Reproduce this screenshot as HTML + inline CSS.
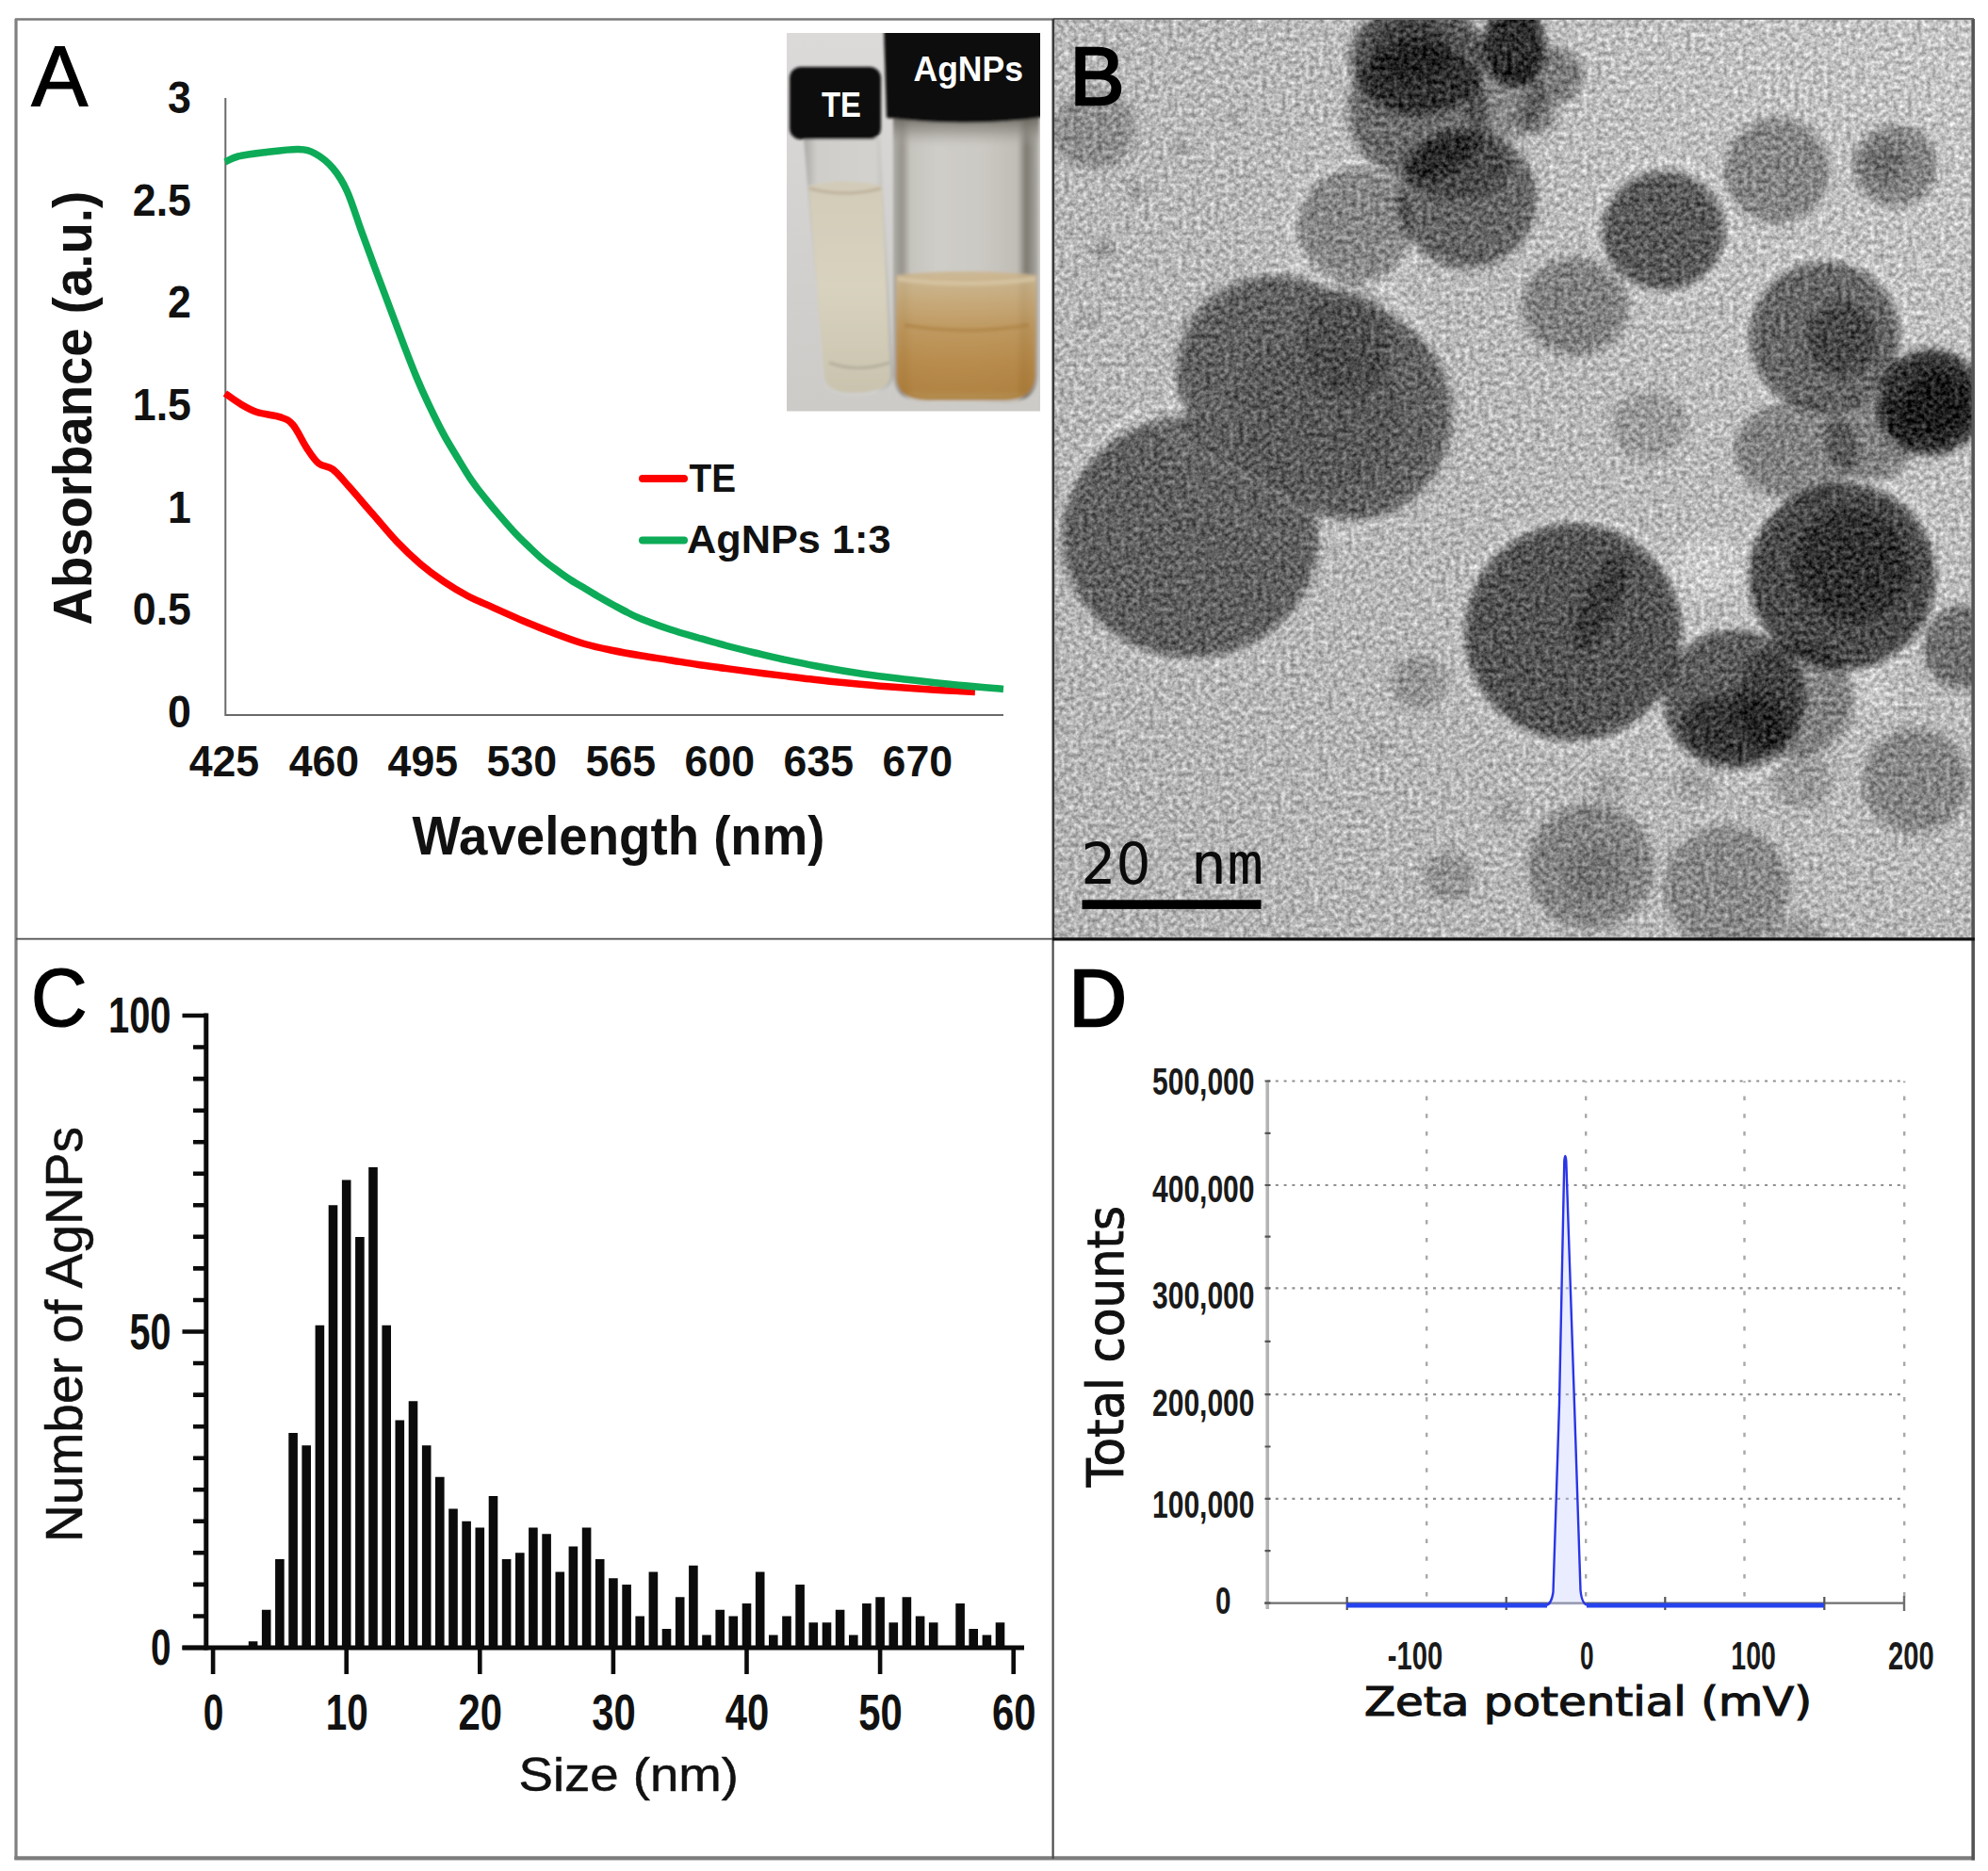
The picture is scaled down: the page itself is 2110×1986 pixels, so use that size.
<!DOCTYPE html>
<html lang="en"><head><meta charset="utf-8"><title>AgNPs characterization figure</title>
<style>
html,body{margin:0;padding:0;background:#fff;}
body{width:2110px;height:1986px;overflow:hidden;}
svg{display:block;}
</style></head><body>
<svg width="2110" height="1986" viewBox="0 0 2110 1986">
<g id="panelA">
<text x="33.3" y="111.6" font-family='"Liberation Sans", sans-serif' font-size="90" font-weight="normal" text-anchor="start" fill="#000" stroke="#000" stroke-width="1.2">A</text>
<path d="M239.3,104 V759 H1065" fill="none" stroke="#6a6a6a" stroke-width="2"/>
<text x="203" y="119.9" font-family='"Liberation Sans", sans-serif' font-size="48" font-weight="bold" text-anchor="end" fill="#111" textLength="24.9" lengthAdjust="spacingAndGlyphs" >3</text>
<text x="203" y="228.55" font-family='"Liberation Sans", sans-serif' font-size="48" font-weight="bold" text-anchor="end" fill="#111" textLength="62.199999999999996" lengthAdjust="spacingAndGlyphs" >2.5</text>
<text x="203" y="337.20000000000005" font-family='"Liberation Sans", sans-serif' font-size="48" font-weight="bold" text-anchor="end" fill="#111" textLength="24.9" lengthAdjust="spacingAndGlyphs" >2</text>
<text x="203" y="445.85" font-family='"Liberation Sans", sans-serif' font-size="48" font-weight="bold" text-anchor="end" fill="#111" textLength="62.199999999999996" lengthAdjust="spacingAndGlyphs" >1.5</text>
<text x="203" y="554.5" font-family='"Liberation Sans", sans-serif' font-size="48" font-weight="bold" text-anchor="end" fill="#111" textLength="24.9" lengthAdjust="spacingAndGlyphs" >1</text>
<text x="203" y="663.15" font-family='"Liberation Sans", sans-serif' font-size="48" font-weight="bold" text-anchor="end" fill="#111" textLength="62.199999999999996" lengthAdjust="spacingAndGlyphs" >0.5</text>
<text x="203" y="771.8000000000001" font-family='"Liberation Sans", sans-serif' font-size="48" font-weight="bold" text-anchor="end" fill="#111" textLength="24.9" lengthAdjust="spacingAndGlyphs" >0</text>
<text x="237.9" y="824.3" font-family='"Liberation Sans", sans-serif' font-size="47" font-weight="bold" text-anchor="middle" fill="#111" textLength="74.5" lengthAdjust="spacingAndGlyphs" >425</text>
<text x="343.9" y="824.3" font-family='"Liberation Sans", sans-serif' font-size="47" font-weight="bold" text-anchor="middle" fill="#111" textLength="74.5" lengthAdjust="spacingAndGlyphs" >460</text>
<text x="448.8" y="824.3" font-family='"Liberation Sans", sans-serif' font-size="47" font-weight="bold" text-anchor="middle" fill="#111" textLength="74.5" lengthAdjust="spacingAndGlyphs" >495</text>
<text x="553.8" y="824.3" font-family='"Liberation Sans", sans-serif' font-size="47" font-weight="bold" text-anchor="middle" fill="#111" textLength="74.5" lengthAdjust="spacingAndGlyphs" >530</text>
<text x="658.8" y="824.3" font-family='"Liberation Sans", sans-serif' font-size="47" font-weight="bold" text-anchor="middle" fill="#111" textLength="74.5" lengthAdjust="spacingAndGlyphs" >565</text>
<text x="763.8" y="824.3" font-family='"Liberation Sans", sans-serif' font-size="47" font-weight="bold" text-anchor="middle" fill="#111" textLength="74.5" lengthAdjust="spacingAndGlyphs" >600</text>
<text x="868.8" y="824.3" font-family='"Liberation Sans", sans-serif' font-size="47" font-weight="bold" text-anchor="middle" fill="#111" textLength="74.5" lengthAdjust="spacingAndGlyphs" >635</text>
<text x="973.8" y="824.3" font-family='"Liberation Sans", sans-serif' font-size="47" font-weight="bold" text-anchor="middle" fill="#111" textLength="74.5" lengthAdjust="spacingAndGlyphs" >670</text>
<text x="437.5" y="906.5" font-family='"Liberation Sans", sans-serif' font-size="58" font-weight="bold" text-anchor="start" fill="#111" textLength="438" lengthAdjust="spacingAndGlyphs" >Wavelength (nm)</text>
<g transform="translate(97.3,663.5) rotate(-90)">
<text x="0" y="0" font-family='"Liberation Sans", sans-serif' font-size="58" font-weight="bold" text-anchor="start" fill="#111" textLength="460.6" lengthAdjust="spacingAndGlyphs" >Absorbance (a.u.)</text>
</g>
<path d="M238.9,417.5 C241.6,419.4 249.5,425.4 255.2,428.7 C260.8,432.0 265.7,435.1 272.8,437.5 C279.9,439.9 291.6,440.6 298.0,442.9 C304.4,445.1 306.4,445.6 311.0,451.0 C315.6,456.4 321.1,468.8 325.6,475.6 C330.1,482.4 333.6,488.1 338.2,491.9 C342.8,495.7 347.9,494.0 353.3,498.2 C358.8,502.4 363.8,509.1 370.9,517.1 C378.0,525.1 387.6,536.4 396.0,546.0 C404.4,555.6 412.8,566.1 421.2,574.9 C429.6,583.7 438.0,591.7 446.4,598.8 C454.8,605.9 463.1,612.0 471.5,617.7 C479.9,623.4 488.3,628.4 496.7,632.8 C505.1,637.2 511.2,639.4 521.8,644.1 C532.3,648.8 548.6,656.2 560.0,661.0 C571.4,665.8 580.1,669.2 590.2,673.0 C600.3,676.8 610.4,680.6 620.4,683.5 C630.4,686.4 640.5,688.4 650.5,690.5 C660.5,692.6 670.6,694.3 680.7,696.0 C690.8,697.7 700.8,699.1 710.9,700.7 C721.0,702.3 731.0,704.0 741.1,705.5 C751.2,707.0 761.2,708.2 771.3,709.6 C781.3,711.0 791.3,712.3 801.4,713.6 C811.5,714.9 821.8,716.2 831.6,717.4 C841.4,718.6 850.0,719.7 860.0,720.8 C870.0,721.9 877.9,722.9 891.5,724.2 C905.1,725.5 925.0,727.5 941.8,728.8 C958.5,730.1 976.5,731.3 992.0,732.2 C1007.5,733.1 1027.8,734.0 1034.9,734.4" fill="none" stroke="#ff0000" stroke-width="7.5" stroke-linejoin="round"/>
<path d="M238.9,172.0 C241.2,171.0 245.4,167.8 252.7,166.0 C260.0,164.2 272.2,162.8 282.9,161.5 C293.6,160.2 308.2,158.2 316.8,158.5 C325.4,158.8 328.3,159.7 334.4,163.0 C340.5,166.3 347.6,171.8 353.3,178.5 C359.0,185.2 363.4,191.9 368.4,203.0 C373.4,214.1 378.5,231.1 383.5,245.0 C388.5,258.9 393.6,272.6 398.6,286.2 C403.6,299.8 408.7,313.1 413.7,326.5 C418.7,339.9 424.1,354.4 428.8,366.7 C433.5,378.9 437.5,389.4 441.9,400.0 C446.3,410.6 450.6,420.1 455.4,430.2 C460.2,440.3 465.5,451.1 470.5,460.4 C475.5,469.7 480.6,477.7 485.6,486.0 C490.6,494.3 495.7,502.9 500.7,510.2 C505.7,517.5 510.8,523.5 515.8,529.8 C520.8,536.1 525.9,542.0 530.9,547.9 C535.9,553.8 541.0,559.6 546.0,565.0 C551.0,570.4 556.1,575.2 561.1,580.0 C566.1,584.8 571.2,589.8 576.2,594.0 C581.2,598.2 586.3,601.8 591.3,605.5 C596.3,609.2 601.3,612.8 606.3,616.0 C611.3,619.2 616.4,622.0 621.4,625.0 C626.4,628.0 631.5,631.1 636.5,634.0 C641.5,636.9 646.6,639.8 651.6,642.5 C656.6,645.2 661.9,648.1 666.7,650.5 C671.6,652.9 673.3,654.1 680.7,657.0 C688.1,659.9 700.8,664.7 710.9,668.0 C721.0,671.3 731.0,674.1 741.1,677.0 C751.2,679.9 761.2,682.8 771.3,685.5 C781.3,688.2 791.3,690.6 801.4,693.0 C811.5,695.4 820.8,697.7 831.6,700.0 C842.4,702.3 852.2,704.4 866.4,707.0 C880.6,709.6 899.9,713.0 916.7,715.5 C933.5,718.0 950.2,719.8 967.0,721.8 C983.8,723.8 1001.0,725.7 1017.3,727.3 C1033.6,728.9 1057.0,730.7 1065.0,731.4" fill="none" stroke="#0dab57" stroke-width="7.5" stroke-linejoin="round"/>
<line x1="682" y1="508" x2="726" y2="508" stroke="#ff0000" stroke-width="8" stroke-linecap="round"/>
<line x1="682" y1="573.5" x2="726" y2="573.5" stroke="#0dab57" stroke-width="8" stroke-linecap="round"/>
<text x="731.5" y="522" font-family='"Liberation Sans", sans-serif' font-size="43" font-weight="bold" text-anchor="start" fill="#111" textLength="49.5" lengthAdjust="spacingAndGlyphs" >TE</text>
<text x="729" y="586.5" font-family='"Liberation Sans", sans-serif' font-size="43" font-weight="bold" text-anchor="start" fill="#111" textLength="216.5" lengthAdjust="spacingAndGlyphs" >AgNPs 1:3</text>
<defs>
<linearGradient id="phbg" x1="0" y1="0" x2="0" y2="1"><stop offset="0" stop-color="#dcdad9"/><stop offset="0.55" stop-color="#d3d1cf"/><stop offset="1" stop-color="#cdcbc8"/></linearGradient>
<linearGradient id="agliq" x1="0" y1="0" x2="0" y2="1"><stop offset="0" stop-color="#ccb68f"/><stop offset="0.25" stop-color="#c5a36c"/><stop offset="0.45" stop-color="#bd9150"/><stop offset="0.7" stop-color="#b5823a"/><stop offset="0.92" stop-color="#ad792f"/><stop offset="1" stop-color="#b08845"/></linearGradient>
<linearGradient id="teliq" x1="0" y1="0" x2="0" y2="1"><stop offset="0" stop-color="#d2cbb8"/><stop offset="0.5" stop-color="#d8d2bf"/><stop offset="1" stop-color="#c9c3ae"/></linearGradient>
<linearGradient id="jarglass" x1="0" y1="0" x2="1" y2="0"><stop offset="0" stop-color="#b0aea8"/><stop offset="0.06" stop-color="#96938c"/><stop offset="0.12" stop-color="#c6c4be"/><stop offset="0.3" stop-color="#cfcdc8"/><stop offset="0.6" stop-color="#cbc9c3"/><stop offset="0.85" stop-color="#c0bdb6"/><stop offset="0.91" stop-color="#7d7a72"/><stop offset="0.96" stop-color="#99968f"/><stop offset="1" stop-color="#b8b6b0"/></linearGradient><linearGradient id="neck" x1="0" y1="0" x2="0" y2="1"><stop offset="0" stop-color="#5e5b55" stop-opacity="0.9"/><stop offset="0.5" stop-color="#8a877f" stop-opacity="0.6"/><stop offset="1" stop-color="#b0aea8" stop-opacity="0"/></linearGradient>
<linearGradient id="vialglass" x1="0" y1="0" x2="1" y2="0"><stop offset="0" stop-color="#a9a8a4"/><stop offset="0.15" stop-color="#cfcecb"/><stop offset="0.8" stop-color="#d2d1ce"/><stop offset="1" stop-color="#b0afab"/></linearGradient>
<filter id="phblur" x="-5%" y="-5%" width="110%" height="110%"><feGaussianBlur stdDeviation="1.6"/></filter>
<clipPath id="phclip"><rect x="835" y="35" width="269" height="401.5"/></clipPath>
</defs>
<g clip-path="url(#phclip)">
<rect x="835" y="35" width="269" height="402" fill="url(#phbg)"/>
<g filter="url(#phblur)">
<path d="M948,118 L948,398 Q948,427 985,428 L1068,428 Q1101,427 1102,398 L1103,118 Z" fill="url(#jarglass)"/>
<path d="M951,292 L951,398 Q951,424 985,425 L1066,425 Q1098,424 1099,398 L1100,292 Q1025,284 951,292 Z" fill="url(#agliq)"/>
<path d="M951,292 L951,395 Q951,421 985,422 L1066,422 Q1098,421 1099,395 L1100,292 Q1025,284 951,292 Z" fill="url(#jarglass)" opacity="0.14"/>
<path d="M960,345 Q1025,356 1092,345" fill="none" stroke="#a8793a" stroke-width="4" opacity="0.5"/>
<path d="M953,296 Q1025,306 1099,296" fill="none" stroke="#d8c7a6" stroke-width="5" opacity="0.7"/>
<rect x="948" y="122" width="155" height="34" fill="url(#neck)"/>
<path d="M938,30 L1110,30 L1110,124 Q1030,136 941,125 Z" fill="#0d0d0f"/>
<path d="M853,146 L874,402 Q876,420 905,420 Q948,420 948,398 L934,146 Z" fill="url(#vialglass)"/>
<path d="M858,197 L875,400 Q877,417 905,417 Q945,417 945,398 L936,197 Q897,188 858,197 Z" fill="url(#teliq)"/>
<path d="M880,385 Q910,396 944,385" fill="none" stroke="#aaa593" stroke-width="3" opacity="0.7"/>
<path d="M859,200 Q897,210 935,200" fill="none" stroke="#b5a58e" stroke-width="3" opacity="0.7"/>
<rect x="838" y="71" width="97" height="77" rx="12" ry="12" fill="#0e0e10"/>
</g>
<text x="872" y="123.5" font-family='"Liberation Sans", sans-serif' font-size="36" font-weight="bold" text-anchor="start" fill="#fff" textLength="42" lengthAdjust="spacingAndGlyphs" >TE</text>
<text x="969.5" y="86" font-family='"Liberation Sans", sans-serif' font-size="37" font-weight="bold" text-anchor="start" fill="#fff" textLength="116.5" lengthAdjust="spacingAndGlyphs" >AgNPs</text>
</g>
</g>
<defs>
<clipPath id="temclip"><rect x="1118" y="20" width="977" height="977"/></clipPath>
<linearGradient id="tembg" x1="0" y1="1" x2="1" y2="0"><stop offset="0" stop-color="#b3b3b3"/><stop offset="0.6" stop-color="#b9b9b9"/><stop offset="1" stop-color="#c6c6c6"/></linearGradient>
<filter id="pblur" filterUnits="userSpaceOnUse" x="1078" y="-20" width="1057" height="1057"><feGaussianBlur stdDeviation="4"/></filter>
<filter id="pblur2" filterUnits="userSpaceOnUse" x="1078" y="-20" width="1057" height="1057"><feGaussianBlur stdDeviation="9"/></filter>
<filter id="grain" filterUnits="userSpaceOnUse" x="1118" y="20" width="977" height="977" color-interpolation-filters="sRGB">
<feTurbulence type="fractalNoise" baseFrequency="0.2" numOctaves="3" seed="11" result="n"/>
<feColorMatrix in="n" type="matrix" values="1 0 0 0 0  1 0 0 0 0  1 0 0 0 0  0 0 0 0 1" result="g"/>
<feComposite in="SourceGraphic" in2="g" operator="arithmetic" k1="0" k2="1" k3="0.6" k4="-0.3"/>
</filter>
</defs>
<g clip-path="url(#temclip)"><g filter="url(#grain)">
<rect x="1118" y="20" width="977" height="977" fill="url(#tembg)"/>
<g filter="url(#pblur)" fill="none" stroke="#fff" stroke-width="7" opacity="0.30">
<circle cx="1263.6" cy="566" r="137"/>
<circle cx="1386.6" cy="427" r="144"/>
<circle cx="1669.5" cy="671" r="122"/>
<circle cx="1955.4" cy="612" r="106"/>
<circle cx="1840.5" cy="745" r="82"/>
<circle cx="1765.7" cy="245" r="72"/>
<circle cx="1936.7" cy="357.4" r="87"/>
<circle cx="1438.7" cy="240" r="68"/>
</g>
<g filter="url(#pblur2)" fill="#fff"><circle cx="1812" cy="602" r="34" opacity="0.28"/><circle cx="1990" cy="735" r="22" opacity="0.2"/><circle cx="1480" cy="268" r="16" opacity="0.2"/></g>
<g filter="url(#pblur)" fill="#000">
<path d="M1126.6,570.4 a137,128 0 1,0 274,0 a137,128 0 1,0 -274,0 z M1248,392 a104,100 0 1,0 208,0 a104,100 0 1,0 -208,0 z M1333,440 a104,112 0 1,0 208,0 a104,112 0 1,0 -208,0 z M1275,420 a120,112 0 1,0 240,0 a120,112 0 1,0 -240,0 z " opacity="0.47"/>
<ellipse cx="1430" cy="362" rx="48" ry="62" opacity="0.16"/>
<ellipse cx="1400" cy="440" rx="90" ry="80" opacity="0.08"/>
<ellipse cx="1669.5" cy="671" rx="115" ry="115" opacity="0.54"/>
<ellipse cx="1699" cy="640" rx="18" ry="55" opacity="0.3" transform="rotate(25 1699 640)"/>
<ellipse cx="1955.4" cy="612" rx="99" ry="99" opacity="0.6"/>
<ellipse cx="1965" cy="600" rx="60" ry="60" opacity="0.35"/>
<ellipse cx="1840.5" cy="742" rx="76" ry="74" opacity="0.5"/>
<ellipse cx="1842" cy="772" rx="58" ry="36" opacity="0.4"/>
<ellipse cx="1905" cy="742" rx="62" ry="62" opacity="0.3"/>
<ellipse cx="1505" cy="118" rx="74" ry="74" opacity="0.42"/>
<ellipse cx="1505" cy="62" rx="72" ry="60" opacity="0.55"/>
<ellipse cx="1498" cy="55" rx="42" ry="32" opacity="0.3"/>
<ellipse cx="1607" cy="48" rx="33" ry="44" opacity="0.75"/>
<ellipse cx="1650" cy="80" rx="30" ry="30" opacity="0.35"/>
<ellipse cx="1597" cy="108" rx="42" ry="40" opacity="0.28"/>
<ellipse cx="1631" cy="121" rx="21" ry="21" opacity="0.3"/>
<ellipse cx="1557" cy="211" rx="74" ry="74" opacity="0.45"/>
<ellipse cx="1547" cy="176" rx="56" ry="36" opacity="0.28"/>
<ellipse cx="1438.7" cy="240" rx="61" ry="61" opacity="0.27"/>
<ellipse cx="1160.8" cy="138" rx="45" ry="42" opacity="0.22"/>
<ellipse cx="1765.7" cy="245" rx="65" ry="63" opacity="0.52"/>
<ellipse cx="1672" cy="325" rx="56" ry="52" opacity="0.3"/>
<ellipse cx="1886" cy="181" rx="56" ry="56" opacity="0.3"/>
<ellipse cx="2011.5" cy="175.7" rx="45" ry="43" opacity="0.32"/>
<ellipse cx="2000" cy="172" rx="22" ry="20" opacity="0.18"/>
<ellipse cx="1936.7" cy="357.4" rx="80" ry="80" opacity="0.46"/>
<ellipse cx="1955" cy="360" rx="38" ry="40" opacity="0.3"/>
<ellipse cx="2049" cy="427" rx="56" ry="56" opacity="0.72"/>
<ellipse cx="2055" cy="430" rx="36" ry="36" opacity="0.45"/>
<ellipse cx="1907" cy="478" rx="66" ry="52" opacity="0.3"/>
<ellipse cx="1985" cy="465" rx="48" ry="45" opacity="0.32"/>
<ellipse cx="1749.7" cy="451" rx="40" ry="36" opacity="0.16"/>
<ellipse cx="2081" cy="687" rx="40" ry="44" opacity="0.4"/>
<ellipse cx="2033" cy="828.7" rx="56" ry="56" opacity="0.27"/>
<ellipse cx="1912.7" cy="828.7" rx="32" ry="30" opacity="0.16"/>
<ellipse cx="1688" cy="919.6" rx="67" ry="67" opacity="0.27"/>
<ellipse cx="1690" cy="925" rx="30" ry="28" opacity="0.12"/>
<ellipse cx="1832.5" cy="941" rx="67" ry="64" opacity="0.25"/>
<ellipse cx="1800" cy="831" rx="21" ry="21" opacity="0.12"/>
<ellipse cx="1707" cy="834" rx="19" ry="19" opacity="0.1"/>
<ellipse cx="1907" cy="994" rx="30" ry="22" opacity="0.15"/>
<ellipse cx="1505.5" cy="724.5" rx="29" ry="29" opacity="0.18"/>
<ellipse cx="1537.6" cy="930" rx="27" ry="27" opacity="0.18"/>
<ellipse cx="1460" cy="791" rx="10" ry="10" opacity="0.1"/>
<ellipse cx="1599" cy="861" rx="16" ry="16" opacity="0.1"/>
<ellipse cx="1307.8" cy="125" rx="8" ry="8" opacity="0.12"/>
<ellipse cx="1251.6" cy="155.6" rx="9" ry="9" opacity="0.14"/>
<ellipse cx="1206" cy="202" rx="10" ry="10" opacity="0.14"/>
<ellipse cx="1170" cy="265" rx="12" ry="12" opacity="0.15"/>
<ellipse cx="1155" cy="341" rx="8" ry="8" opacity="0.12"/>
<ellipse cx="1358.5" cy="133" rx="6" ry="6" opacity="0.1"/>
</g>
<g filter="url(#pblur)" fill="none" stroke="#fff" stroke-width="5" opacity="0.20"><path d="M1214,441 Q1312,503 1404,553"/></g>
<g filter="url(#pblur)" fill="none" stroke="#000" stroke-width="9" opacity="0.07"><path d="M1222,432 Q1318,494 1410,543"/></g>
</g>
<text x="1135.6" y="111.3" font-family='"Liberation Sans", sans-serif' font-size="87" font-weight="normal" text-anchor="start" fill="#000" stroke="#000" stroke-width="2.6">B</text>
<text x="1147.5" y="938.3" font-family='"DejaVu Sans", "Liberation Sans", sans-serif' font-size="60" font-weight="normal" text-anchor="start" fill="#0a0a0a" textLength="74" lengthAdjust="spacingAndGlyphs" >20</text>
<text x="1263.5" y="938.3" font-family='"DejaVu Sans Mono", "Liberation Mono", monospace' font-size="60" font-weight="normal" text-anchor="start" fill="#0a0a0a" textLength="77.5" lengthAdjust="spacingAndGlyphs" >nm</text>
<rect x="1148.5" y="955.3" width="190" height="9.6" fill="#000"/>
</g>
<g id="panelC">
<text x="32.8" y="1089.3" font-family='"Liberation Sans", sans-serif' font-size="88" font-weight="normal" text-anchor="start" fill="#000" textLength="60" lengthAdjust="spacingAndGlyphs" stroke="#000" stroke-width="1.2">C</text>
<path d="M263.8,1749.0 v-6.7 h9.6 v6.7zM277.9,1749.0 v-40.3 h9.6 v40.3zM292.1,1749.0 v-93.9 h9.6 v93.9zM306.3,1749.0 v-228.1 h9.6 v228.1zM320.4,1749.0 v-214.7 h9.6 v214.7zM334.6,1749.0 v-342.2 h9.6 v342.2zM348.7,1749.0 v-469.7 h9.6 v469.7zM362.9,1749.0 v-496.5 h9.6 v496.5zM377.1,1749.0 v-436.1 h9.6 v436.1zM391.2,1749.0 v-510.0 h9.6 v510.0zM405.4,1749.0 v-342.2 h9.6 v342.2zM419.5,1749.0 v-241.6 h9.6 v241.6zM433.7,1749.0 v-261.7 h9.6 v261.7zM447.9,1749.0 v-214.7 h9.6 v214.7zM462.0,1749.0 v-181.2 h9.6 v181.2zM476.2,1749.0 v-147.6 h9.6 v147.6zM490.3,1749.0 v-134.2 h9.6 v134.2zM504.5,1749.0 v-127.5 h9.6 v127.5zM518.7,1749.0 v-161.0 h9.6 v161.0zM532.8,1749.0 v-93.9 h9.6 v93.9zM547.0,1749.0 v-100.7 h9.6 v100.7zM561.1,1749.0 v-127.5 h9.6 v127.5zM575.3,1749.0 v-120.8 h9.6 v120.8zM589.5,1749.0 v-80.5 h9.6 v80.5zM603.6,1749.0 v-107.4 h9.6 v107.4zM617.8,1749.0 v-127.5 h9.6 v127.5zM631.9,1749.0 v-93.9 h9.6 v93.9zM646.1,1749.0 v-73.8 h9.6 v73.8zM660.3,1749.0 v-67.1 h9.6 v67.1zM674.4,1749.0 v-33.5 h9.6 v33.5zM688.6,1749.0 v-80.5 h9.6 v80.5zM702.7,1749.0 v-20.1 h9.6 v20.1zM716.9,1749.0 v-53.7 h9.6 v53.7zM731.1,1749.0 v-87.2 h9.6 v87.2zM745.2,1749.0 v-13.4 h9.6 v13.4zM759.4,1749.0 v-40.3 h9.6 v40.3zM773.5,1749.0 v-33.5 h9.6 v33.5zM787.7,1749.0 v-47.0 h9.6 v47.0zM801.9,1749.0 v-80.5 h9.6 v80.5zM816.0,1749.0 v-13.4 h9.6 v13.4zM830.2,1749.0 v-33.5 h9.6 v33.5zM844.3,1749.0 v-67.1 h9.6 v67.1zM858.5,1749.0 v-26.8 h9.6 v26.8zM872.7,1749.0 v-26.8 h9.6 v26.8zM886.8,1749.0 v-40.3 h9.6 v40.3zM901.0,1749.0 v-13.4 h9.6 v13.4zM915.1,1749.0 v-47.0 h9.6 v47.0zM929.3,1749.0 v-53.7 h9.6 v53.7zM943.5,1749.0 v-26.8 h9.6 v26.8zM957.6,1749.0 v-53.7 h9.6 v53.7zM971.8,1749.0 v-33.5 h9.6 v33.5zM985.9,1749.0 v-26.8 h9.6 v26.8zM1014.3,1749.0 v-47.0 h9.6 v47.0zM1028.4,1749.0 v-20.1 h9.6 v20.1zM1042.6,1749.0 v-13.4 h9.6 v13.4zM1056.7,1749.0 v-26.8 h9.6 v26.8z" fill="#0b0b0b"/>
<path d="M193.5,1749.0 H1087" stroke="#0b0b0b" stroke-width="5" fill="none"/>
<path d="M218.8,1075.5 V1751.5" stroke="#0b0b0b" stroke-width="5" fill="none"/>
<path d="M193.5,1749.0 H219M205,1715.5 H219M205,1681.9 H219M205,1648.3 H219M205,1614.8 H219M205,1581.2 H219M205,1547.7 H219M205,1514.2 H219M205,1480.6 H219M205,1447.0 H219M193.5,1413.5 H219M205,1380.0 H219M205,1346.4 H219M205,1312.8 H219M205,1279.3 H219M205,1245.8 H219M205,1212.2 H219M205,1178.7 H219M205,1145.1 H219M205,1111.5 H219M193.5,1078.0 H219M226.1,1749.0 V1777M367.7,1749.0 V1777M509.3,1749.0 V1777M650.9,1749.0 V1777M792.5,1749.0 V1777M934.1,1749.0 V1777M1075.7,1749.0 V1777" stroke="#0b0b0b" stroke-width="4.6" fill="none"/>
<text x="181.5" y="1096.2" font-family='"Liberation Sans", sans-serif' font-size="53" font-weight="bold" text-anchor="end" fill="#111" textLength="66.5" lengthAdjust="spacingAndGlyphs" >100</text>
<text x="181.5" y="1432.2" font-family='"Liberation Sans", sans-serif' font-size="53" font-weight="bold" text-anchor="end" fill="#111" textLength="44" lengthAdjust="spacingAndGlyphs" >50</text>
<text x="181.5" y="1767.2" font-family='"Liberation Sans", sans-serif' font-size="53" font-weight="bold" text-anchor="end" fill="#111" textLength="21.5" lengthAdjust="spacingAndGlyphs" >0</text>
<text x="226.6" y="1836" font-family='"Liberation Sans", sans-serif' font-size="53" font-weight="bold" text-anchor="middle" fill="#111" textLength="21.6" lengthAdjust="spacingAndGlyphs" >0</text>
<text x="368.2" y="1836" font-family='"Liberation Sans", sans-serif' font-size="53" font-weight="bold" text-anchor="middle" fill="#111" textLength="45" lengthAdjust="spacingAndGlyphs" >10</text>
<text x="509.79999999999995" y="1836" font-family='"Liberation Sans", sans-serif' font-size="53" font-weight="bold" text-anchor="middle" fill="#111" textLength="46.5" lengthAdjust="spacingAndGlyphs" >20</text>
<text x="651.4" y="1836" font-family='"Liberation Sans", sans-serif' font-size="53" font-weight="bold" text-anchor="middle" fill="#111" textLength="46.5" lengthAdjust="spacingAndGlyphs" >30</text>
<text x="793.0" y="1836" font-family='"Liberation Sans", sans-serif' font-size="53" font-weight="bold" text-anchor="middle" fill="#111" textLength="46.5" lengthAdjust="spacingAndGlyphs" >40</text>
<text x="934.6" y="1836" font-family='"Liberation Sans", sans-serif' font-size="53" font-weight="bold" text-anchor="middle" fill="#111" textLength="46.5" lengthAdjust="spacingAndGlyphs" >50</text>
<text x="1076.1999999999998" y="1836" font-family='"Liberation Sans", sans-serif' font-size="53" font-weight="bold" text-anchor="middle" fill="#111" textLength="46.5" lengthAdjust="spacingAndGlyphs" >60</text>
<text x="550.5" y="1900.5" font-family='"Liberation Sans", sans-serif' font-size="50" font-weight="normal" text-anchor="start" fill="#111" textLength="233.5" lengthAdjust="spacingAndGlyphs" stroke="#111" stroke-width="0.5">Size (nm)</text>
<g transform="translate(86.8,1637) rotate(-90)">
<text x="0" y="0" font-family='"Liberation Sans", sans-serif' font-size="55" font-weight="normal" text-anchor="start" fill="#111" textLength="441" lengthAdjust="spacingAndGlyphs" stroke="#111" stroke-width="0.5">Number of AgNPs</text>
</g>
</g>
<g id="panelD">
<text x="1134.5" y="1089" font-family='"Liberation Sans", sans-serif' font-size="85" font-weight="normal" text-anchor="start" fill="#000" stroke="#000" stroke-width="2.4">D</text>
<path d="M1345,1147.5 H2022M1345,1258 H2022M1345,1367.3 H2022M1345,1480.2 H2022M1345,1590.8 H2022" stroke="#8f8f8f" stroke-width="2.2" stroke-dasharray="3 5.8" fill="none"/>
<path d="M1514.2,1147.5 V1701M1683.2,1147.5 V1701M1851.5,1147.5 V1701M2021.2,1147.5 V1701" stroke="#a8a8a8" stroke-width="2.4" stroke-dasharray="4.5 14.3" stroke-dashoffset="-16" fill="none"/>
<path d="M1345.2,1147 V1708" stroke="#b4b4b4" stroke-width="3.6" fill="none"/>
<path d="M1342,1701.6 H2021 M2021,1694 V1710" stroke="#6e6e6e" stroke-width="2.4" fill="none"/>
<path d="M1342.5,1202.8 H1348.5M1342.5,1312.7 H1348.5M1342.5,1423.8 H1348.5M1342.5,1535.5 H1348.5M1342.5,1646.2 H1348.5M1342.5,1147.5 H1348.5M1342.5,1258.0 H1348.5M1342.5,1367.3 H1348.5M1342.5,1480.2 H1348.5M1342.5,1590.8 H1348.5M1342.5,1701.5 H1348.5M1429.7,1695 V1709M1598.7,1695 V1709M1767.3,1695 V1709M1936.3,1695 V1709" stroke="#555" stroke-width="2.2" fill="none"/>
<path d="M1429,1704 H1640 Q1646.5,1704 1648.5,1690 L1655,1490 L1660.3,1232 Q1661.3,1222 1662.3,1232 L1671,1490 L1677.5,1688 Q1679,1704 1686,1704 H1936" fill="#c9d0ff" fill-opacity="0.38" stroke="#2a35e6" stroke-width="2.4" stroke-linejoin="round"/>
<path d="M1429,1704 H1642 M1684,1704 H1936" stroke="#2743ee" stroke-width="5.2" fill="none"/>
<text x="1331.5" y="1161.5" font-family='"Liberation Sans", sans-serif' font-size="41" font-weight="bold" text-anchor="end" fill="#1a1a1a" textLength="108.5" lengthAdjust="spacingAndGlyphs" >500,000</text>
<text x="1331.5" y="1275.8" font-family='"Liberation Sans", sans-serif' font-size="41" font-weight="bold" text-anchor="end" fill="#1a1a1a" textLength="108.5" lengthAdjust="spacingAndGlyphs" >400,000</text>
<text x="1331.5" y="1388.5" font-family='"Liberation Sans", sans-serif' font-size="41" font-weight="bold" text-anchor="end" fill="#1a1a1a" textLength="108.5" lengthAdjust="spacingAndGlyphs" >300,000</text>
<text x="1331.5" y="1502.5" font-family='"Liberation Sans", sans-serif' font-size="41" font-weight="bold" text-anchor="end" fill="#1a1a1a" textLength="108.5" lengthAdjust="spacingAndGlyphs" >200,000</text>
<text x="1331.5" y="1610.8" font-family='"Liberation Sans", sans-serif' font-size="41" font-weight="bold" text-anchor="end" fill="#1a1a1a" textLength="108.5" lengthAdjust="spacingAndGlyphs" >100,000</text>
<text x="1290" y="1712.7" font-family='"Liberation Sans", sans-serif' font-size="41" font-weight="bold" text-anchor="start" fill="#1a1a1a" textLength="16.5" lengthAdjust="spacingAndGlyphs" >0</text>
<text x="1472.8" y="1771.7" font-family='"Liberation Sans", sans-serif' font-size="42" font-weight="bold" text-anchor="start" fill="#1a1a1a" textLength="58.5" lengthAdjust="spacingAndGlyphs" >-100</text>
<text x="1677" y="1772" font-family='"Liberation Sans", sans-serif' font-size="42" font-weight="bold" text-anchor="start" fill="#1a1a1a" textLength="14.6" lengthAdjust="spacingAndGlyphs" >0</text>
<text x="1837.3" y="1772" font-family='"Liberation Sans", sans-serif' font-size="42" font-weight="bold" text-anchor="start" fill="#1a1a1a" textLength="47.5" lengthAdjust="spacingAndGlyphs" >100</text>
<text x="2004" y="1772" font-family='"Liberation Sans", sans-serif' font-size="42" font-weight="bold" text-anchor="start" fill="#1a1a1a" textLength="48.8" lengthAdjust="spacingAndGlyphs" >200</text>
<text x="1448" y="1820.5" font-family='"DejaVu Sans", "Liberation Sans", sans-serif' font-size="42.5" font-weight="normal" text-anchor="start" fill="#111" textLength="475" lengthAdjust="spacingAndGlyphs" stroke="#111" stroke-width="1.2">Zeta potential (mV)</text>
<g transform="translate(1191.8,1578.5) rotate(-90)">
<text x="0" y="0" font-family='"DejaVu Sans", "Liberation Sans", sans-serif' font-size="52.5" font-weight="normal" text-anchor="start" fill="#111" textLength="298.5" lengthAdjust="spacingAndGlyphs" stroke="#111" stroke-width="0.9">Total counts</text>
</g>
</g>
<g id="frame" fill="none">
<path d="M16,20.5 H1118" stroke="#7a7a7a" stroke-width="2.4"/>
<path d="M17,20 V1974" stroke="#808080" stroke-width="3.2"/>
<path d="M15.4,1972.4 H2096" stroke="#7c7c7c" stroke-width="4.2"/>
<path d="M2094.2,20 V1974.5" stroke="#555" stroke-width="3.6"/>
<path d="M1118,20 H2095" stroke="#666" stroke-width="2"/>
<path d="M1117.8,20 V997" stroke="#3a3a3a" stroke-width="2.6"/>
<path d="M1117.6,997 V1973" stroke="#4a4a4a" stroke-width="2.2"/>
<path d="M17,996.6 H1118" stroke="#4d4d4d" stroke-width="1.8"/>
<path d="M1117,996.8 H2096" stroke="#111" stroke-width="3.2"/>
</g>
</svg>
</body></html>
